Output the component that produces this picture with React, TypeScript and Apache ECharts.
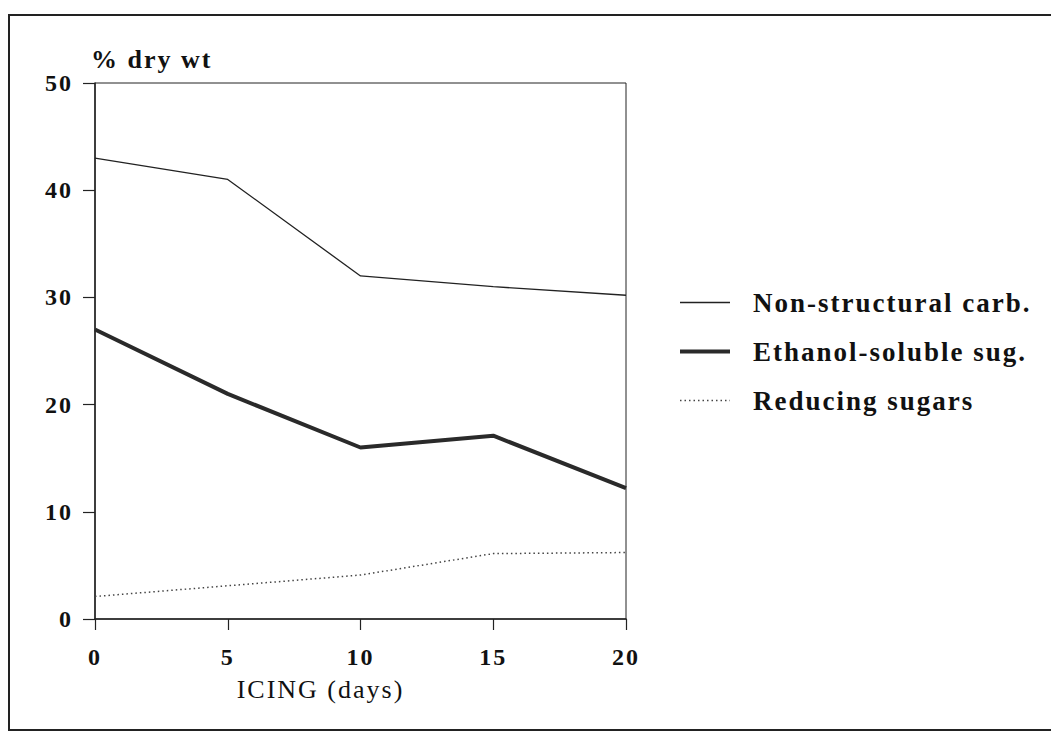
import React, { useEffect, useRef } from "react";
import * as echarts from "echarts";

const days = [0, 5, 10, 15, 20];
const nonStructural = [43, 41, 32, 31, 30.2];
const ethanolSoluble = [27, 21, 16, 17.1, 12.2];
const reducingSugars = [2.1, 3.1, 4.1, 6.1, 6.2];
const seriesNames = ["Non-structural carb.", "Ethanol-soluble sug.", "Reducing sugars"];

const FONT = "Liberation Serif, Times New Roman, serif";

export default function App() {
  const ref = useRef<HTMLDivElement>(null);
  useEffect(() => {
    if (!ref.current) return;
    const chart = echarts.init(ref.current, undefined, { renderer: "svg" });
    const pair = (ys: number[]) => days.map((d, i) => [d, ys[i]]);
    chart.setOption({
      animation: false,
      backgroundColor: "#fff",
      textStyle: { fontFamily: FONT, color: "#111" },
      grid: {
        left: 95,
        top: 83,
        right: 425,
        bottom: 112,
        show: true,
        borderColor: "#222",
        borderWidth: 1,
      },
      legend: {
        left: 673,
        top: 284,
        orient: "vertical",
        itemWidth: 50,
        itemHeight: 14,
        itemGap: 22,
        itemStyle: { opacity: 0 },
        textStyle: {
          fontFamily: FONT,
          fontWeight: "bold",
          fontSize: 27,
          color: "#111",
          padding: [0, 0, 0, 18],
        },
        data: [
          { name: seriesNames[0], lineStyle: { width: 1.3 } },
          { name: seriesNames[1], lineStyle: { width: 4 } },
          { name: seriesNames[2], lineStyle: { width: 1.5 } },
        ],
      },
      xAxis: {
        type: "value",
        min: 0,
        max: 20,
        interval: 5,
        name: "ICING (days)",
        nameLocation: "middle",
        nameGap: 57,
        nameTextStyle: { fontFamily: FONT, fontSize: 26, color: "#111", padding: [0, 80, 0, 0] },
        axisLine: { show: true, onZero: false, lineStyle: { color: "#222", width: 1.5 } },
        axisTick: { show: true, length: 11, lineStyle: { color: "#222", width: 1.2 } },
        axisLabel: {
          margin: 26,
          fontFamily: FONT,
          fontWeight: "bold",
          fontSize: 24,
          color: "#111",
        },
        splitLine: { show: false },
      },
      yAxis: {
        type: "value",
        min: 0,
        max: 50,
        interval: 10,
        name: "% dry wt",
        nameLocation: "end",
        nameGap: 11,
        nameTextStyle: {
          fontFamily: FONT,
          fontWeight: "bold",
          fontSize: 26,
          color: "#111",
          align: "left",
          padding: [0, 0, 0, -4],
        },
        axisLine: { show: true, onZero: false, lineStyle: { color: "#222", width: 1.5 } },
        axisTick: { show: true, length: 12, lineStyle: { color: "#222", width: 1.2 } },
        axisLabel: {
          margin: 22,
          fontFamily: FONT,
          fontWeight: "bold",
          fontSize: 24,
          color: "#111",
        },
        splitLine: { show: false },
      },
      graphic: [
        {
          type: "rect",
          shape: { x: 9, y: 15, width: 1100, height: 715 },
          style: { fill: "none", stroke: "#222", lineWidth: 2 },
          silent: true,
        },
      ],
      series: [
        {
          name: seriesNames[0],
          type: "line",
          data: pair(nonStructural),
          symbol: "none",
          lineStyle: { color: "#222", width: 1.3, type: "solid" },
          itemStyle: { color: "#222" },
        },
        {
          name: seriesNames[1],
          type: "line",
          data: pair(ethanolSoluble),
          symbol: "none",
          lineStyle: { color: "#2a2a2a", width: 4, type: "solid" },
          itemStyle: { color: "#2a2a2a" },
        },
        {
          name: seriesNames[2],
          type: "line",
          data: pair(reducingSugars),
          symbol: "none",
          lineStyle: { color: "#444", width: 1.5, type: [1.5, 3] },
          itemStyle: { color: "#444" },
        },
      ],
    });
    return () => chart.dispose();
  }, []);
  return (
    <div
      ref={ref}
      style={{
        position: "fixed",
        left: 0,
        top: 0,
        width: 1051,
        height: 731,
        letterSpacing: "2px",
      }}
    />
  );
}
